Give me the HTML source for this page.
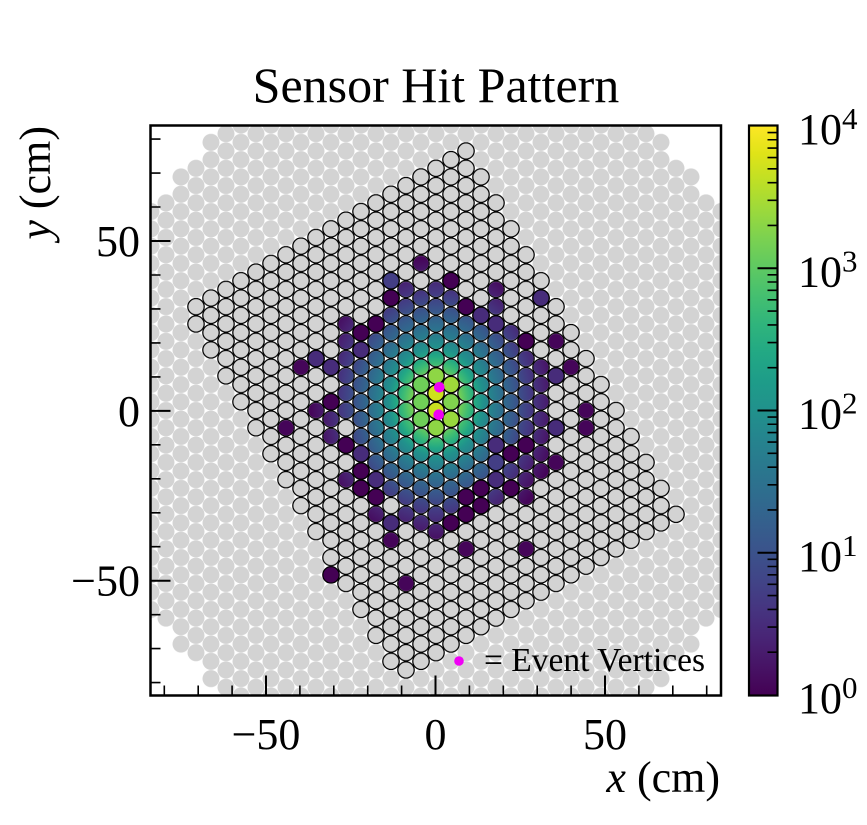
<!DOCTYPE html>
<html><head><meta charset="utf-8">
<style>
html,body{margin:0;padding:0;background:#fff;width:867px;height:825px;overflow:hidden}
svg{display:block}
text{font-family:"Liberation Serif","Times New Roman",serif;fill:#000}
</style></head>
<body>
<svg width="867" height="825" viewBox="0 0 867 825" xmlns="http://www.w3.org/2000/svg">
<defs>
  <pattern id="gE" patternUnits="userSpaceOnUse" x="421" y="401.85" width="30" height="17.3"><circle cx="15" cy="8.65" r="8.5" fill="#d3d3d3"/></pattern>
  <pattern id="gO" patternUnits="userSpaceOnUse" x="436" y="393.2" width="30" height="17.3"><circle cx="15" cy="8.65" r="8.5" fill="#d3d3d3"/></pattern>
  <pattern id="oE" patternUnits="userSpaceOnUse" x="421" y="401.85" width="30" height="17.3"><circle cx="15" cy="8.65" r="8.2" fill="#d3d3d3" stroke="#000" stroke-width="1.25"/></pattern>
  <pattern id="oO" patternUnits="userSpaceOnUse" x="436" y="393.2" width="30" height="17.3"><circle cx="15" cy="8.65" r="8.2" fill="#d3d3d3" stroke="#000" stroke-width="1.25"/></pattern>
  <pattern id="mE" patternUnits="userSpaceOnUse" x="421" y="401.85" width="30" height="17.3"><circle cx="15" cy="8.65" r="7.55" fill="#fff"/></pattern>
  <pattern id="mO" patternUnits="userSpaceOnUse" x="436" y="393.2" width="30" height="17.3"><circle cx="15" cy="8.65" r="7.55" fill="#fff"/></pattern>
  <radialGradient id="rg" gradientUnits="userSpaceOnUse" cx="436" cy="402" r="126" gradientTransform="translate(436 402) scale(1 1.15) translate(-436 -402)">
    <stop offset="0" stop-color="#d2e21b"/>
    <stop offset="0.067" stop-color="#c2df23"/>
    <stop offset="0.183" stop-color="#7ad151"/>
    <stop offset="0.258" stop-color="#3fbc73"/>
    <stop offset="0.317" stop-color="#22a884"/>
    <stop offset="0.375" stop-color="#21918c"/>
    <stop offset="0.5" stop-color="#2c738e"/>
    <stop offset="0.625" stop-color="#38588c"/>
    <stop offset="0.75" stop-color="#443a83"/>
    <stop offset="0.875" stop-color="#481f70"/>
    <stop offset="1" stop-color="#450559"/>
  </radialGradient>
  <linearGradient id="vir" x1="0" y1="1" x2="0" y2="0">
    <stop offset="0" stop-color="#440154"/>
    <stop offset="0.05" stop-color="#471365"/>
    <stop offset="0.1" stop-color="#482475"/>
    <stop offset="0.15" stop-color="#463480"/>
    <stop offset="0.2" stop-color="#414487"/>
    <stop offset="0.25" stop-color="#3b528b"/>
    <stop offset="0.3" stop-color="#355f8d"/>
    <stop offset="0.35" stop-color="#2f6c8e"/>
    <stop offset="0.4" stop-color="#2a788e"/>
    <stop offset="0.45" stop-color="#25848e"/>
    <stop offset="0.5" stop-color="#21918c"/>
    <stop offset="0.55" stop-color="#1e9c89"/>
    <stop offset="0.6" stop-color="#22a884"/>
    <stop offset="0.65" stop-color="#2fb47c"/>
    <stop offset="0.7" stop-color="#44bf70"/>
    <stop offset="0.75" stop-color="#5ec962"/>
    <stop offset="0.8" stop-color="#7ad151"/>
    <stop offset="0.85" stop-color="#9bd93c"/>
    <stop offset="0.9" stop-color="#bddf26"/>
    <stop offset="0.95" stop-color="#dfe318"/>
    <stop offset="1" stop-color="#fde725"/>
  </linearGradient>
  <clipPath id="pc"><rect x="151" y="126" width="569.5" height="569"/></clipPath>
  <mask id="cm" maskUnits="userSpaceOnUse" x="0" y="0" width="867" height="825">
    <rect x="277" y="419.15" width="18" height="17.3" fill="url(#mE)"/>
    <rect x="292" y="358.6" width="18" height="17.3" fill="url(#mO)"/>
    <rect x="307" y="349.95" width="18" height="17.3" fill="url(#mE)"/>
    <rect x="307" y="401.85" width="18" height="17.3" fill="url(#mE)"/>
    <rect x="322" y="358.6" width="18" height="17.3" fill="url(#mO)"/>
    <rect x="322" y="393.2" width="18" height="51.9" fill="url(#mO)"/>
    <rect x="322" y="566.2" width="18" height="17.3" fill="url(#mO)"/>
    <rect x="337" y="315.35" width="18" height="103.8" fill="url(#mE)"/>
    <rect x="337" y="436.45" width="18" height="17.3" fill="url(#mE)"/>
    <rect x="337" y="471.05" width="18" height="17.3" fill="url(#mE)"/>
    <rect x="352" y="324" width="18" height="173" fill="url(#mO)"/>
    <rect x="367" y="315.35" width="18" height="207.6" fill="url(#mE)"/>
    <rect x="382" y="272.1" width="18" height="224.9" fill="url(#mO)"/>
    <rect x="382" y="514.3" width="18" height="34.6" fill="url(#mO)"/>
    <rect x="397" y="280.75" width="18" height="242.2" fill="url(#mE)"/>
    <rect x="397" y="574.85" width="18" height="17.3" fill="url(#mE)"/>
    <rect x="412" y="254.8" width="18" height="17.3" fill="url(#mO)"/>
    <rect x="412" y="289.4" width="18" height="242.2" fill="url(#mO)"/>
    <rect x="427" y="280.75" width="18" height="259.5" fill="url(#mE)"/>
    <rect x="442" y="272.1" width="18" height="259.5" fill="url(#mO)"/>
    <rect x="457" y="298.05" width="18" height="224.9" fill="url(#mE)"/>
    <rect x="457" y="540.25" width="18" height="17.3" fill="url(#mE)"/>
    <rect x="472" y="306.7" width="18" height="207.6" fill="url(#mO)"/>
    <rect x="487" y="280.75" width="18" height="224.9" fill="url(#mE)"/>
    <rect x="502" y="324" width="18" height="173" fill="url(#mO)"/>
    <rect x="517" y="332.65" width="18" height="173" fill="url(#mE)"/>
    <rect x="517" y="540.25" width="18" height="17.3" fill="url(#mE)"/>
    <rect x="532" y="289.4" width="18" height="17.3" fill="url(#mO)"/>
    <rect x="532" y="358.6" width="18" height="121.1" fill="url(#mO)"/>
    <rect x="547" y="332.65" width="18" height="17.3" fill="url(#mE)"/>
    <rect x="547" y="367.25" width="18" height="17.3" fill="url(#mE)"/>
    <rect x="547" y="419.15" width="18" height="17.3" fill="url(#mE)"/>
    <rect x="547" y="453.75" width="18" height="17.3" fill="url(#mE)"/>
    <rect x="562" y="358.6" width="18" height="17.3" fill="url(#mO)"/>
    <rect x="577" y="401.85" width="18" height="34.6" fill="url(#mE)"/>
  </mask>
</defs>

<rect x="0" y="0" width="867" height="825" fill="#fff"/>

<!-- Title -->
<text x="436" y="102" font-size="50" text-anchor="middle">Sensor Hit Pattern</text>

<g clip-path="url(#pc)">
  <!-- background gray detector -->
  <rect x="217" y="100" width="438" height="620" fill="url(#gE)"/>
  <rect x="232" y="100" width="408" height="620" fill="url(#gO)"/>
  <rect x="202" y="133.7" width="18" height="553.6" fill="url(#gO)"/>
  <rect x="652" y="133.7" width="18" height="553.6" fill="url(#gO)"/>
  <rect x="187" y="159.65" width="18" height="501.7" fill="url(#gE)"/>
  <rect x="667" y="159.65" width="18" height="501.7" fill="url(#gE)"/>
  <rect x="172" y="168.3" width="18" height="484.4" fill="url(#gO)"/>
  <rect x="682" y="168.3" width="18" height="484.4" fill="url(#gO)"/>
  <rect x="157" y="194.25" width="18" height="432.5" fill="url(#gE)"/>
  <rect x="697" y="194.25" width="18" height="432.5" fill="url(#gE)"/>
  <rect x="142" y="202.9" width="18" height="415.2" fill="url(#gO)"/>
  <rect x="712" y="202.9" width="18" height="415.2" fill="url(#gO)"/>

  <!-- outlined active region -->
  <rect x="187" y="298.05" width="18" height="34.6" fill="url(#oE)"/>
  <rect x="202" y="289.4" width="18" height="69.2" fill="url(#oO)"/>
  <rect x="217" y="280.75" width="18" height="103.8" fill="url(#oE)"/>
  <rect x="232" y="272.1" width="18" height="138.4" fill="url(#oO)"/>
  <rect x="247" y="263.45" width="18" height="173" fill="url(#oE)"/>
  <rect x="262" y="254.8" width="18" height="207.6" fill="url(#oO)"/>
  <rect x="277" y="246.15" width="18" height="242.2" fill="url(#oE)"/>
  <rect x="292" y="237.5" width="18" height="276.8" fill="url(#oO)"/>
  <rect x="307" y="228.85" width="18" height="311.4" fill="url(#oE)"/>
  <rect x="322" y="220.2" width="18" height="346" fill="url(#oO)"/>
  <rect x="337" y="211.55" width="18" height="380.6" fill="url(#oE)"/>
  <rect x="352" y="202.9" width="18" height="415.2" fill="url(#oO)"/>
  <rect x="367" y="194.25" width="18" height="449.8" fill="url(#oE)"/>
  <rect x="382" y="185.6" width="18" height="484.4" fill="url(#oO)"/>
  <rect x="397" y="176.95" width="18" height="501.7" fill="url(#oE)"/>
  <rect x="412" y="168.3" width="18" height="501.7" fill="url(#oO)"/>
  <rect x="427" y="159.65" width="18" height="501.7" fill="url(#oE)"/>
  <rect x="442" y="151" width="18" height="501.7" fill="url(#oO)"/>
  <rect x="457" y="142.35" width="18" height="501.7" fill="url(#oE)"/>
  <rect x="472" y="168.3" width="18" height="467.1" fill="url(#oO)"/>
  <rect x="487" y="194.25" width="18" height="432.5" fill="url(#oE)"/>
  <rect x="502" y="220.2" width="18" height="397.9" fill="url(#oO)"/>
  <rect x="517" y="246.15" width="18" height="363.3" fill="url(#oE)"/>
  <rect x="532" y="272.1" width="18" height="328.7" fill="url(#oO)"/>
  <rect x="547" y="298.05" width="18" height="294.1" fill="url(#oE)"/>
  <rect x="562" y="324" width="18" height="259.5" fill="url(#oO)"/>
  <rect x="577" y="349.95" width="18" height="224.9" fill="url(#oE)"/>
  <rect x="592" y="375.9" width="18" height="190.3" fill="url(#oO)"/>
  <rect x="607" y="401.85" width="18" height="155.7" fill="url(#oE)"/>
  <rect x="622" y="427.8" width="18" height="121.1" fill="url(#oO)"/>
  <rect x="637" y="453.75" width="18" height="86.5" fill="url(#oE)"/>
  <rect x="652" y="479.7" width="18" height="51.9" fill="url(#oO)"/>
  <rect x="667" y="505.65" width="18" height="17.3" fill="url(#oE)"/>

  <!-- hit cells (viridis, log scale) -->
  <rect x="150" y="125" width="572" height="572" fill="url(#rg)" mask="url(#cm)"/>

  <g stroke="#000" stroke-width="1.25">
    <g fill="#472c7a">
      <circle cx="316" cy="358.6" r="8.2"/>
      <circle cx="331" cy="367.25" r="8.2"/>
      <circle cx="361" cy="349.95" r="8.2"/>
      <circle cx="361" cy="453.75" r="8.2"/>
      <circle cx="376" cy="479.7" r="8.2"/>
      <circle cx="391" cy="522.95" r="8.2"/>
      <circle cx="481" cy="315.35" r="8.2"/>
      <circle cx="496" cy="324" r="8.2"/>
      <circle cx="496" cy="445.1" r="8.2"/>
      <circle cx="496" cy="479.7" r="8.2"/>
      <circle cx="541" cy="298.05" r="8.2"/>
      <circle cx="556" cy="375.9" r="8.2"/>
      <circle cx="556" cy="427.8" r="8.2"/>
    </g>
    <g fill="#433e85">
      <circle cx="391" cy="280.75" r="8.2"/>
      <circle cx="496" cy="462.4" r="8.2"/>
    </g>
    <g fill="#440154">
      <circle cx="331" cy="401.85" r="8.2"/>
      <circle cx="346" cy="445.1" r="8.2"/>
      <circle cx="361" cy="332.65" r="8.2"/>
      <circle cx="361" cy="471.05" r="8.2"/>
      <circle cx="361" cy="488.35" r="8.2"/>
      <circle cx="376" cy="324" r="8.2"/>
      <circle cx="376" cy="497" r="8.2"/>
      <circle cx="391" cy="298.05" r="8.2"/>
      <circle cx="451" cy="280.75" r="8.2"/>
      <circle cx="451" cy="522.95" r="8.2"/>
      <circle cx="466" cy="306.7" r="8.2"/>
      <circle cx="466" cy="497" r="8.2"/>
      <circle cx="466" cy="514.3" r="8.2"/>
      <circle cx="481" cy="488.35" r="8.2"/>
      <circle cx="481" cy="505.65" r="8.2"/>
      <circle cx="511" cy="453.75" r="8.2"/>
      <circle cx="511" cy="488.35" r="8.2"/>
      <circle cx="526" cy="341.3" r="8.2"/>
      <circle cx="526" cy="445.1" r="8.2"/>
      <circle cx="331" cy="574.85" r="8.2"/>
    </g>
    <!-- bright central cells -->
    <circle cx="436" cy="410.5" r="8.2" fill="#c8e020"/>
    <circle cx="436" cy="393.2" r="8.2" fill="#cde11d"/>
    <circle cx="436" cy="375.9" r="8.2" fill="#8ed645"/>
    <circle cx="436" cy="427.8" r="8.2" fill="#8ed645"/>
    <circle cx="451" cy="384.55" r="8.2" fill="#9ed93a"/>
    <circle cx="451" cy="401.85" r="8.2" fill="#80d34e"/>
    <circle cx="451" cy="419.15" r="8.2" fill="#98d83e"/>
    <circle cx="421" cy="384.55" r="8.2" fill="#6ece58"/>
    <circle cx="421" cy="401.85" r="8.2" fill="#70cf57"/>
    <circle cx="421" cy="419.15" r="8.2" fill="#6ece58"/>
  </g>

  <!-- event vertices -->
  <circle cx="439.3" cy="387.3" r="5.3" fill="#f000f5"/>
  <circle cx="438.7" cy="414.7" r="5.3" fill="#f000f5"/>

  <!-- legend -->
  <circle cx="459" cy="661" r="4.8" fill="#f000f5"/>
  <text x="484" y="671" font-size="33.5">= Event Vertices</text>
</g>

<!-- axes frame -->
<rect x="150.5" y="125.5" width="570.5" height="570" fill="none" stroke="#000" stroke-width="2.5"/>

<!-- ticks -->
<path d="M150.5 241h20M150.5 410.85h20M150.5 580.7h20
M266 695.5v-20M435.5 695.5v-20M605 695.5v-20" stroke="#000" stroke-width="2" fill="none"/>
<path d="M150.5 139.1h10M150.5 173.05h10M150.5 207h10M150.5 275h10M150.5 308.9h10M150.5 342.9h10M150.5 376.9h10M150.5 444.8h10M150.5 478.8h10M150.5 512.8h10M150.5 546.7h10M150.5 614.7h10M150.5 648.6h10M150.5 682.6h10
M164.3 695.5v-10M198.2 695.5v-10M232.1 695.5v-10M299.9 695.5v-10M333.8 695.5v-10M367.7 695.5v-10M401.6 695.5v-10M469.4 695.5v-10M503.3 695.5v-10M537.2 695.5v-10M571.1 695.5v-10M638.9 695.5v-10M672.8 695.5v-10M706.7 695.5v-10" stroke="#000" stroke-width="1.6" fill="none"/>

<!-- tick labels -->
<g font-size="44">
  <text x="140" y="256" text-anchor="end">50</text>
  <text x="140" y="426" text-anchor="end">0</text>
  <text x="140" y="595.7" text-anchor="end">−50</text>
  <text x="266" y="749" text-anchor="middle">−50</text>
  <text x="435.5" y="749" text-anchor="middle">0</text>
  <text x="605" y="749" text-anchor="middle">50</text>
</g>

<!-- axis labels -->
<text x="720" y="792" font-size="44" text-anchor="end"><tspan font-style="italic">x</tspan> (cm)</text>
<text transform="translate(50,126) rotate(-90)" font-size="44" text-anchor="end"><tspan font-style="italic">y</tspan> (cm)</text>

<!-- colorbar -->
<rect x="749" y="125.5" width="28.5" height="570" fill="url(#vir)" stroke="#000" stroke-width="2.2"/>
<path d="M777.5 268.25h-20M777.5 410.5h-20M777.5 552.75h-20" stroke="#000" stroke-width="2" fill="none"/>
<path d="M777.5 652.2h-10M777.5 627.1h-10M777.5 609.4h-10M777.5 595.6h-10M777.5 584.3h-10M777.5 574.8h-10M777.5 566.5h-10M777.5 559.3h-10
M777.5 509.95h-10M777.5 484.85h-10M777.5 467.15h-10M777.5 453.35h-10M777.5 442.05h-10M777.5 432.55h-10M777.5 424.25h-10M777.5 417.05h-10
M777.5 367.7h-10M777.5 342.6h-10M777.5 324.9h-10M777.5 311.1h-10M777.5 299.8h-10M777.5 290.3h-10M777.5 282h-10M777.5 274.8h-10
M777.5 225.45h-10M777.5 200.35h-10M777.5 182.65h-10M777.5 168.85h-10M777.5 157.55h-10M777.5 148.05h-10M777.5 139.75h-10M777.5 132.55h-10" stroke="#000" stroke-width="1.6" fill="none"/>
<g font-size="44">
  <text x="798" y="144">10<tspan dy="-15" font-size="31">4</tspan></text>
  <text x="798" y="286.25">10<tspan dy="-15" font-size="31">3</tspan></text>
  <text x="798" y="428.5">10<tspan dy="-15" font-size="31">2</tspan></text>
  <text x="798" y="570.75">10<tspan dy="-15" font-size="31">1</tspan></text>
  <text x="798" y="713">10<tspan dy="-15" font-size="31">0</tspan></text>
</g>
</svg>
</body></html>
